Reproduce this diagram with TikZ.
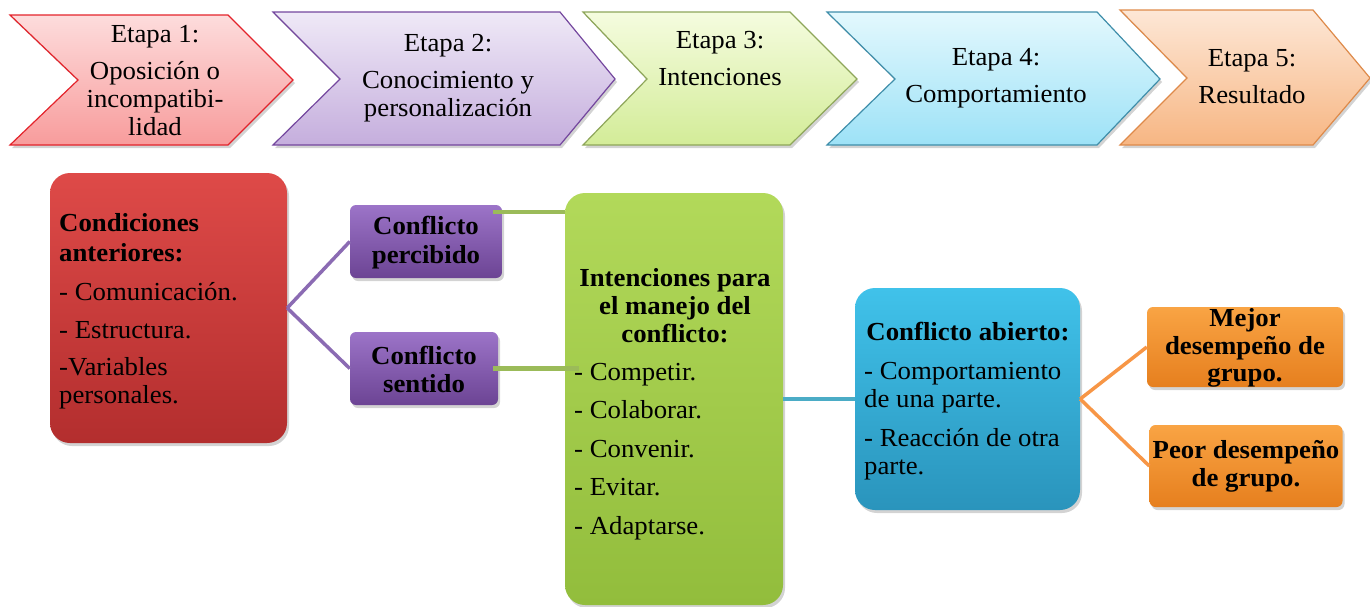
\documentclass[tikz,border=0pt]{standalone}
\usepackage{fontspec}
\setmainfont{Liberation Serif}[FakeStretch=1.03]
\usetikzlibrary{shadows,calc}
\definecolor{redT}{HTML}{FDDCDC}
\definecolor{redB}{HTML}{F89C9C}
\definecolor{redE}{HTML}{E3232B}
\definecolor{purT}{HTML}{EFE9F7}
\definecolor{purB}{HTML}{C5AEDD}
\definecolor{purE}{HTML}{74479E}
\definecolor{grnT}{HTML}{F5FCDF}
\definecolor{grnB}{HTML}{D3EC98}
\definecolor{grnE}{HTML}{8EA65A}
\definecolor{bluT}{HTML}{E3F8FD}
\definecolor{bluB}{HTML}{9DE2F7}
\definecolor{bluE}{HTML}{3F8EAA}
\definecolor{orgT}{HTML}{FDE7D6}
\definecolor{orgB}{HTML}{F7B683}
\definecolor{orgE}{HTML}{DE8A4A}
\definecolor{bRedT}{HTML}{DE4A48}
\definecolor{bRedB}{HTML}{B32E2E}
\definecolor{bPurT}{HTML}{9C74C8}
\definecolor{bPurB}{HTML}{6C4494}
\definecolor{bGrnT}{HTML}{B2D95A}
\definecolor{bGrnB}{HTML}{92BD3C}
\definecolor{bBluT}{HTML}{40C2EA}
\definecolor{bBluB}{HTML}{2A94BC}
\definecolor{bOrgT}{HTML}{F9A444}
\definecolor{bOrgB}{HTML}{E67F1E}
\definecolor{lPur}{HTML}{8B6BB3}
\definecolor{lGrn}{HTML}{9BBB59}
\definecolor{lBlu}{HTML}{4BACC6}
\definecolor{lOrg}{HTML}{F79646}
\tikzset{
  chev/.style={line width=1.2pt, line join=miter, drop shadow={opacity=0.35, shadow xshift=2pt, shadow yshift=-3pt}},
  txt/.style={inner sep=0pt, font=\fontsize{26}{28}\selectfont, text=black},
  chevtxt/.style={txt, align=center},
  boxbase/.style={draw=none, inner sep=0pt, drop shadow={opacity=0.35, shadow xshift=2pt, shadow yshift=-3pt}},
  bigbox/.style={boxbase, rounded corners=20pt},
  smallbox/.style={boxbase, rounded corners=6pt},
  conn/.style={line width=3.5pt}
}
\begin{document}
\begin{tikzpicture}[x=1pt,y=-1pt]
\useasboundingbox (0,0) rectangle (1370,606);
% chevrons
\path[chev, top color=redT, bottom color=redB, draw=redE]
  (10,15) -- (228,15) -- (293,80) -- (228,145) -- (10,145) -- (78,80) -- cycle;
\path[chev, top color=purT, bottom color=purB, draw=purE]
  (273,12) -- (560,12) -- (615,79) -- (560,145) -- (273,145) -- (340,79) -- cycle;
\path[chev, top color=grnT, bottom color=grnB, draw=grnE]
  (583,12) -- (790,12) -- (857,79) -- (790,145) -- (583,145) -- (647,79) -- cycle;
\path[chev, top color=bluT, bottom color=bluB, draw=bluE]
  (827,12) -- (1097,12) -- (1160,79) -- (1097,145) -- (827,145) -- (895,79) -- cycle;
\path[chev, top color=orgT, bottom color=orgB, draw=orgE]
  (1120,10) -- (1313,10) -- (1370,78) -- (1313,145) -- (1120,145) -- (1187,78) -- cycle;
\node[chevtxt] (e1) at (155,81) {Etapa 1:\\[9pt]Oposición o\\incompatibi-\\lidad};
\node[chevtxt] (e2) at (448,78) {Etapa 2:\\[9pt]Conocimiento y\\personalización};
\node[chevtxt] (e3) at (720,59) {Etapa 3:\\[9pt]Intenciones};
\node[chevtxt] (e4) at (996,78) {Etapa 4:\\[9pt]Comportamiento};
\node[chevtxt] (e5) at (1252,77) {Etapa 5:\\[9pt]Resultado};
% boxes
\node[bigbox, top color=bRedT, bottom color=bRedB, minimum width=237pt, minimum height=270pt] (cond) at (168.5,308) {};
\node[smallbox, top color=bPurT, bottom color=bPurB, minimum width=152pt, minimum height=73pt] (perc) at (426,241.5) {};
\node[smallbox, top color=bPurT, bottom color=bPurB, minimum width=148pt, minimum height=73pt] (sent) at (424,368.5) {};
\node[bigbox, top color=bGrnT, bottom color=bGrnB, minimum width=218pt, minimum height=412pt] (intn) at (674,399) {};
\node[bigbox, top color=bBluT, bottom color=bBluB, minimum width=225pt, minimum height=222pt] (abto) at (967.5,399) {};
\node[smallbox, top color=bOrgT, bottom color=bOrgB, minimum width=196pt, minimum height=80pt] (mejor) at (1245,347) {};
\node[smallbox, top color=bOrgT, bottom color=bOrgB, minimum width=193pt, minimum height=82pt] (peor) at (1246,466) {};
% connectors
\coordinate (gs1) at ([xshift=-9pt, yshift=-7pt]perc.north east);
\coordinate (gs2) at ([xshift=-5pt]sent.east);
\draw[conn, lPur] (cond.east) -- (perc.west);
\draw[conn, lPur] (cond.east) -- (sent.west);
\draw[line width=4.5pt, lGrn] (gs1) -- (intn.west |- gs1);
\draw[line width=4.5pt, lGrn] (gs2) -- ([xshift=14pt]intn.west |- gs2);
\draw[conn, lBlu] (intn.east) -- (abto.west);
\draw[conn, lOrg] (abto.east) -- (mejor.west);
\draw[conn, lOrg] (abto.east) -- (peor.west);
% texts
\node[txt, anchor=north west, align=left] (condtxt) at (59,213) {\textbf{Condiciones}\\[2pt]\textbf{anteriores:}\\[11pt]- Comunicación.\\[10pt]- Estructura.\\[9pt]-Variables\\personales.};
\node[txt, align=center, font=\fontsize{26}{29}\selectfont\bfseries] (perctxt) at (426,243) {Conflicto\\percibido};
\node[txt, align=center, font=\fontsize{26}{28}\selectfont\bfseries] (senttxt) at (424,369) {Conflicto\\sentido};
\node[txt, align=center, font=\fontsize{26}{28}\selectfont\bfseries] (intntxt) at (675,306) {Intenciones para\\el manejo del\\conflicto:};
\node[txt, anchor=north west, align=left] (intnlist) at (574,363) {- Competir.\\[10.5pt]- Colaborar.\\[10.5pt]- Convenir.\\[10.5pt]- Evitar.\\[10.5pt]- Adaptarse.};
\node[txt, font=\fontsize{26}{28}\selectfont\bfseries] (abtotxt) at (968,332) {Conflicto abierto:};
\node[txt, anchor=north west, align=left] (abtolist) at (864,362) {- Comportamiento\\de una parte.\\[11pt]- Reacción de otra\\parte.};
\node[txt, align=center, font=\fontsize{26}{27.5}\selectfont\bfseries] (mejortxt) at (1245,348) {Mejor\\desempeño de\\grupo.};
\node[txt, align=center, font=\fontsize{26}{28}\selectfont\bfseries] (peortxt) at (1246,466) {Peor desempeño\\de grupo.};
\end{tikzpicture}
\end{document}
